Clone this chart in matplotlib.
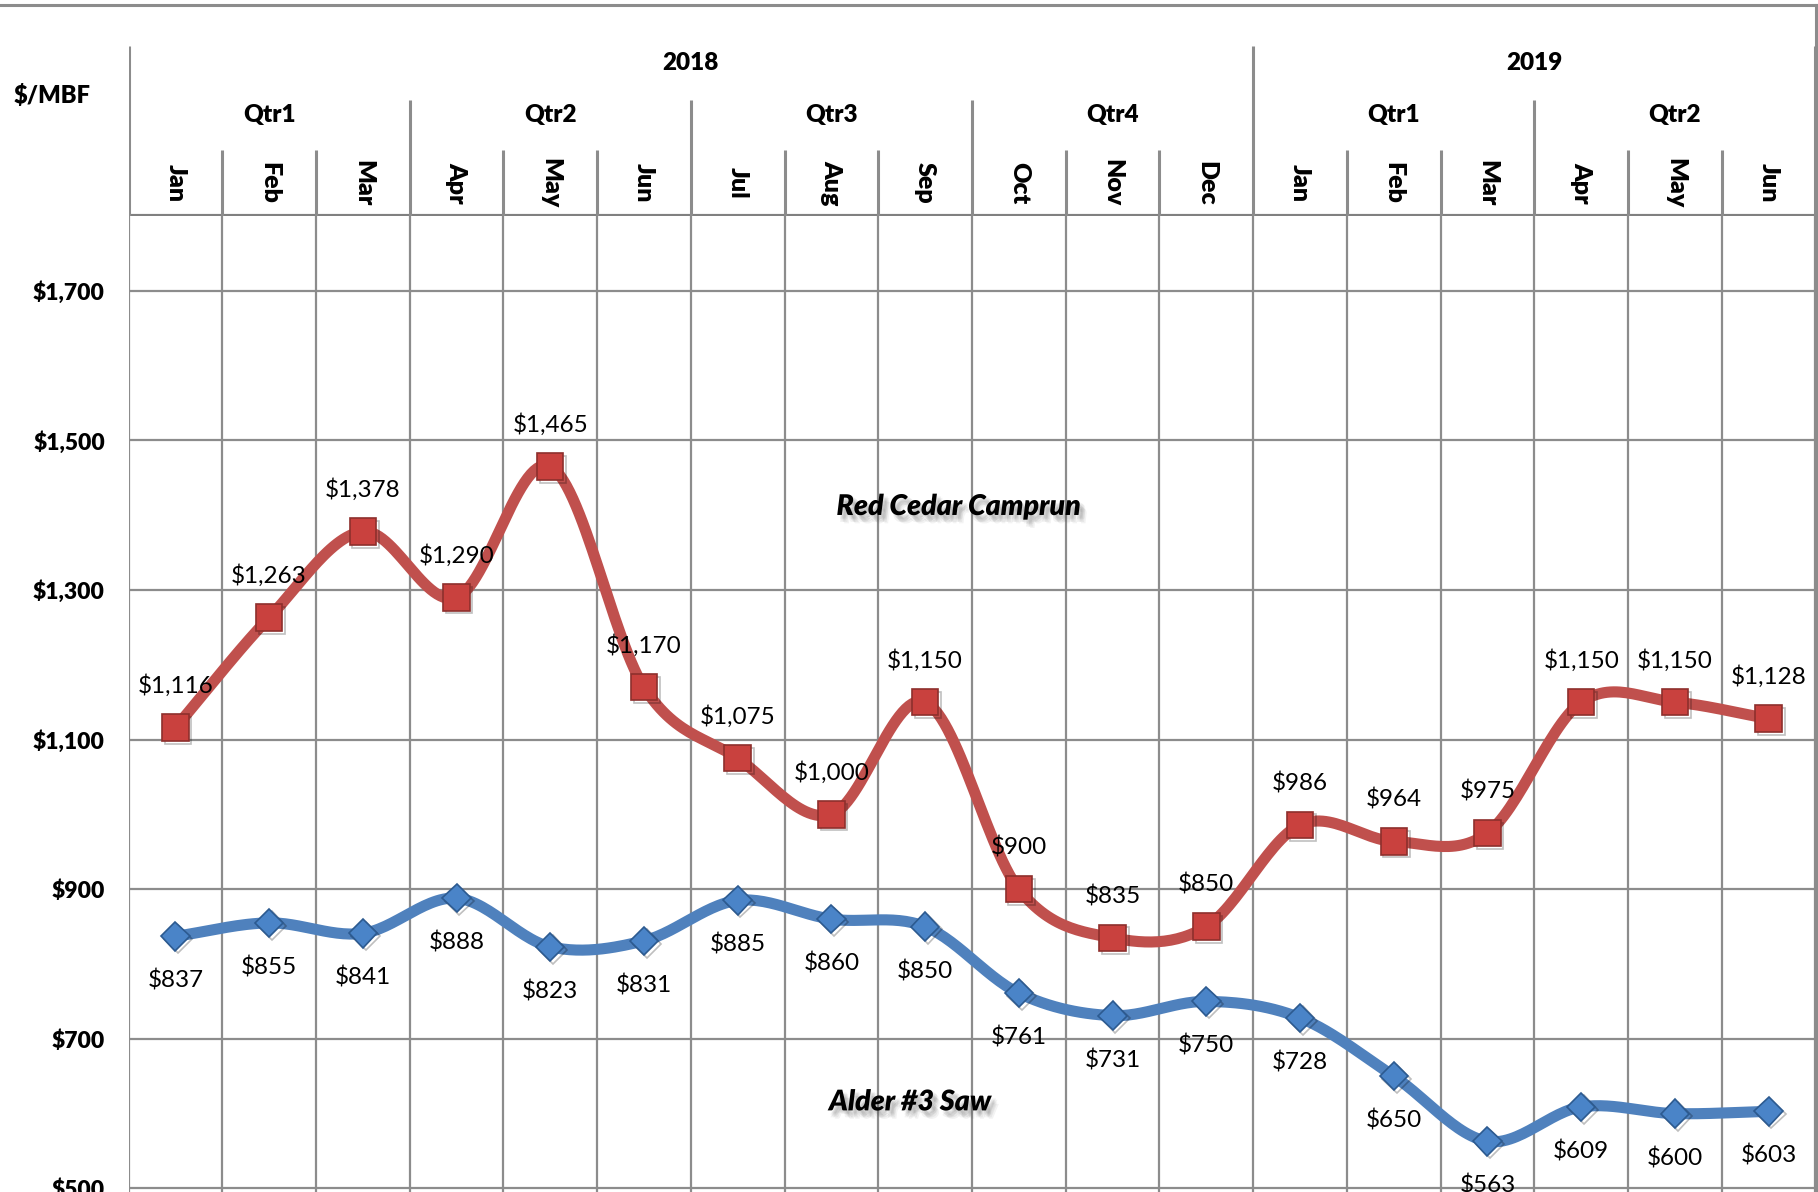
import numpy as np
import matplotlib.pyplot as plt
import matplotlib.patheffects as pe

# Data
months = ["Jan", "Feb", "Mar", "Apr", "May", "Jun", "Jul", "Aug", "Sep", "Oct", "Nov", "Dec",
          "Jan", "Feb", "Mar", "Apr", "May", "Jun"]
quarters = ["Qtr1", "Qtr2", "Qtr3", "Qtr4", "Qtr1", "Qtr2"]
years = ["2018", "2019"]
red_cedar = [1116, 1263, 1378, 1290, 1465, 1170, 1075, 1000, 1150, 900, 835, 850,
             986, 964, 975, 1150, 1150, 1128]
alder = [837, 855, 841, 888, 823, 831, 885, 860, 850, 761, 731, 750,
         728, 650, 563, 609, 600, 603]
yticks = [500, 700, 900, 1100, 1300, 1500, 1700]

plt.rcParams['font.family'] = ['Lato', 'DejaVu Sans']

W, H = 1818, 1192
grid_col = '#8c8c8c'
hw = 'heavy'


def smooth(x, y, n=30):
    # Catmull-Rom style smoothing like Excel's smoothed lines
    x = np.asarray(x, float)
    y = np.asarray(y, float)
    px = np.concatenate([[2 * x[0] - x[1]], x, [2 * x[-1] - x[-2]]])
    py = np.concatenate([[2 * y[0] - y[1]], y, [2 * y[-1] - y[-2]]])
    xs, ys = [], []
    t = np.linspace(0, 1, n)
    for i in range(1, len(px) - 2):
        for p, out in ((px, xs), (py, ys)):
            p0, p1, p2, p3 = p[i - 1], p[i], p[i + 1], p[i + 2]
            out.extend(0.5 * ((2 * p1) + (-p0 + p2) * t +
                              (2 * p0 - 5 * p1 + 4 * p2 - p3) * t ** 2 +
                              (-p0 + 3 * p1 - 3 * p2 + p3) * t ** 3))
    return np.array(xs), np.array(ys)


fig = plt.figure(figsize=(W / 100, H / 100), dpi=100)

left = 128.5 / W
width = (1815.5 - 128.5) / W
top_plot = 216
ax = fig.add_axes([left, 0, width, (H - top_plot) / H])

x = np.arange(len(months))
ax.set_xlim(-0.5, len(months) - 0.5)
ax.set_ylim(495.2, 1800)

for v in yticks:
    ax.axhline(v, color=grid_col, lw=1.6, zorder=1)
for i in range(len(months) + 1):
    ax.axvline(i - 0.5, color=grid_col, lw=1.6, zorder=1)
for s in ax.spines.values():
    s.set_visible(False)
ax.set_xticks([])
ax.set_yticks(yticks)
ax.set_yticklabels(["${:,}".format(v) for v in yticks], fontsize=16.5, fontweight=hw)
ax.tick_params(axis='y', length=0, pad=17)

sx, sy = smooth(x, red_cedar)
ax.plot(sx, sy, color='#C0504D', lw=8, solid_capstyle='round', zorder=3)
ax.plot(x, red_cedar, ls='none', marker='s', ms=19, mfc='#C9413E', mec='#8E2F2C', mew=1.2,
        zorder=4, path_effects=[pe.SimpleLineShadow(offset=(2, -2), alpha=0.25), pe.Normal()])
bx, by = smooth(x, alder)
ax.plot(bx, by, color='#4F81BD', lw=8, solid_capstyle='round', zorder=3)
ax.plot(x, alder, ls='none', marker='D', ms=14.5, mfc='#4A84C8', mec='#2C5A90', mew=1.2,
        zorder=4, path_effects=[pe.SimpleLineShadow(offset=(2, -2), alpha=0.25), pe.Normal()])

for xi, v in zip(x, red_cedar):
    ax.annotate("${:,}".format(v), (xi, v), xytext=(0, 30), textcoords='offset points',
                ha='center', va='center', fontsize=17.5, zorder=5)
for xi, v in zip(x, alder):
    ax.annotate("${:,}".format(v), (xi, v), xytext=(0, -32), textcoords='offset points',
                ha='center', va='center', fontsize=17.5, zorder=5)

# soft blurred-looking shadow from several faint offset copies
shadow = [pe.SimplePatchShadow(offset=(dx, dy), shadow_rgbFace='#555555', alpha=0.07)
          for dx, dy in [(2, -3), (3, -4), (4, -5), (3, -2), (2, -5), (4, -3), (5, -6)]]
shadow.append(pe.Normal())
ax.text(8.36, 1411, "Red Cedar Camprun", ha='center', va='center', fontsize=20.5,
        fontweight=hw, style='italic', path_effects=shadow, zorder=5)
ax.text(7.84, 615, "Alder #3 Saw", ha='center', va='center', fontsize=20.5,
        fontweight=hw, style='italic', path_effects=shadow, zorder=5)

# Header with years / quarters / months
hdr_top = 46
hax = fig.add_axes([left, (H - top_plot) / H, width, (top_plot - hdr_top) / H])
hax.set_xlim(-0.5, len(months) - 0.5)
hax.set_ylim(0, top_plot - hdr_top)
hax.axis('off')
row_m, row_q = 66, 116
hax.axhline(0, color='#808080', lw=3)
for i in range(len(months) + 1):
    xb = i - 0.5
    if i % 12 == 0 or i == len(months):
        y1 = top_plot - hdr_top
    elif i % 3 == 0:
        y1 = row_q
    else:
        y1 = row_m
    hax.plot([xb, xb], [0, y1], color=grid_col, lw=2.2, solid_capstyle='butt')
for i, m in enumerate(months):
    hax.text(i, 33, m, rotation=-90, ha='center', va='center', fontsize=18, fontweight=hw)
for i, q in enumerate(quarters):
    hax.text(i * 3 + 1, 101, q, ha='center', va='center', fontsize=17.5, fontweight=hw)
for i, yr in enumerate(years):
    hax.text(5.5 if i == 0 else 14.5, 153, yr, ha='center', va='center',
             fontsize=17.5, fontweight=hw)

fig.text(14 / W, 1 - 96 / H, "$/MBF", ha='left', va='center', fontsize=17, fontweight=hw)

# chart border (top and right)
fig.add_artist(plt.Line2D([0, 1815.5 / W], [1 - 5 / H, 1 - 5 / H], color='#8c8c8c', lw=2.2,
                          transform=fig.transFigure))
fig.add_artist(plt.Line2D([1815.5 / W, 1815.5 / W], [0, 1 - 5 / H], color='#8c8c8c', lw=2.2,
                          transform=fig.transFigure))

fig.savefig("out.png", dpi=100)
